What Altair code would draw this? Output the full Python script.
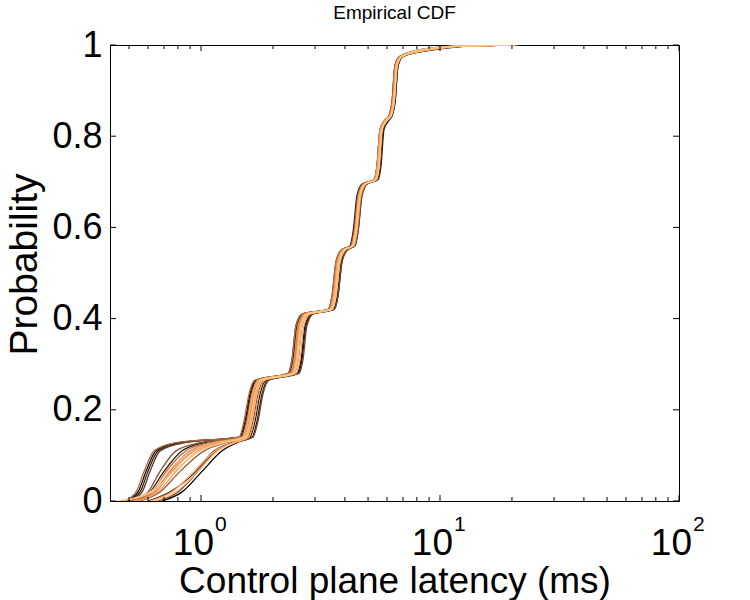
import altair as alt
import pandas as pd

# Cumulative probability levels shared by every run (quantile table of each run's latencies)
probability = [0.0, 0.02, 0.065, 0.11, 0.128,
               0.14, 0.175, 0.235, 0.265,
               0.28, 0.31, 0.385, 0.41,
               0.42, 0.45, 0.525, 0.55,
               0.56, 0.59, 0.67, 0.695,
               0.705, 0.735, 0.815, 0.835,
               0.845, 0.875, 0.955, 0.975,
               0.99, 0.998, 1.0]

# Latency (ms) at which each run reaches the probability levels above
run_01 = [0.687, 0.833, 1.010, 1.224, 1.415, 1.603, 1.682, 1.765, 1.871, 2.521, 2.620, 2.723, 2.885, 3.567, 3.707, 3.853, 4.043, 4.367, 4.494, 4.671, 4.902, 5.450, 5.611, 5.774, 6.058, 6.297, 6.481, 6.672, 7.000, 9.08, 13.35, 20.6]
run_02 = [0.486, 0.545, 0.589, 0.648, 0.801, 1.456, 1.528, 1.603, 1.699, 2.334, 2.426, 2.521, 2.671, 3.433, 3.567, 3.707, 3.890, 4.243, 4.367, 4.538, 4.761, 5.346, 5.503, 5.663, 5.944, 6.176, 6.357, 6.545, 6.867, 8.65, 12.72, 19.6]
run_03 = [0.525, 0.612, 0.700, 0.833, 1.039, 1.634, 1.715, 1.800, 1.907, 2.546, 2.646, 2.750, 2.913, 3.601, 3.743, 3.890, 4.082, 4.410, 4.538, 4.715, 4.950, 5.503, 5.663, 5.830, 6.117, 6.297, 6.481, 6.672, 7.000, 9.53, 14.01, 21.6]
run_04 = [0.495, 0.556, 0.600, 0.661, 0.833, 1.471, 1.543, 1.619, 1.715, 2.312, 2.402, 2.497, 2.646, 3.400, 3.533, 3.672, 3.853, 4.202, 4.325, 4.494, 4.715, 5.294, 5.450, 5.611, 5.886, 6.117, 6.297, 6.481, 6.801, 8.41, 12.37, 18.7]
run_05 = [0.600, 0.742, 0.953, 1.134, 1.348, 1.573, 1.650, 1.732, 1.835, 2.449, 2.546, 2.646, 2.803, 3.499, 3.637, 3.779, 3.966, 4.325, 4.451, 4.626, 4.855, 5.398, 5.557, 5.718, 6.000, 6.237, 6.419, 6.608, 6.934, 8.82, 12.97, 20.0]
run_06 = [0.505, 0.567, 0.612, 0.674, 0.857, 1.484, 1.557, 1.634, 1.732, 2.357, 2.449, 2.546, 2.698, 3.465, 3.601, 3.743, 3.928, 4.243, 4.367, 4.538, 4.761, 5.294, 5.450, 5.611, 5.886, 6.176, 6.357, 6.545, 6.867, 8.25, 12.13, 17.8]
run_07 = [0.661, 0.801, 0.971, 1.156, 1.374, 1.650, 1.732, 1.817, 1.925, 2.570, 2.671, 2.776, 2.942, 3.601, 3.743, 3.890, 4.082, 4.410, 4.538, 4.715, 4.950, 5.450, 5.611, 5.774, 6.058, 6.297, 6.481, 6.672, 7.000, 9.35, 13.75, 21.2]
run_08 = [0.514, 0.600, 0.674, 0.786, 0.990, 1.499, 1.573, 1.650, 1.748, 2.379, 2.473, 2.570, 2.723, 3.433, 3.567, 3.707, 3.890, 4.284, 4.410, 4.582, 4.808, 5.346, 5.503, 5.663, 5.944, 6.117, 6.297, 6.481, 6.801, 8.65, 12.72, 19.6]
run_09 = [0.556, 0.674, 0.817, 1.029, 1.272, 1.557, 1.634, 1.715, 1.817, 2.426, 2.521, 2.620, 2.776, 3.533, 3.672, 3.816, 4.004, 4.325, 4.451, 4.626, 4.855, 5.398, 5.557, 5.718, 6.000, 6.237, 6.419, 6.608, 6.934, 8.91, 13.10, 20.2]
run_10 = [0.476, 0.535, 0.578, 0.636, 0.786, 1.442, 1.513, 1.588, 1.682, 2.312, 2.402, 2.497, 2.646, 3.400, 3.533, 3.672, 3.853, 4.243, 4.367, 4.538, 4.761, 5.294, 5.450, 5.611, 5.886, 6.117, 6.297, 6.481, 6.801, 8.49, 12.49, 19.26]
run_11 = [0.505, 0.624, 0.714, 0.865, 1.091, 1.528, 1.603, 1.682, 1.782, 2.402, 2.497, 2.595, 2.750, 3.465, 3.601, 3.743, 3.928, 4.284, 4.410, 4.582, 4.808, 5.346, 5.503, 5.663, 5.944, 6.176, 6.357, 6.545, 6.867, 8.74, 12.85, 19.8]
run_12 = [0.535, 0.636, 0.742, 0.899, 1.134, 1.513, 1.588, 1.666, 1.765, 2.379, 2.473, 2.570, 2.723, 3.499, 3.637, 3.779, 3.966, 4.325, 4.451, 4.626, 4.855, 5.346, 5.503, 5.663, 5.944, 6.176, 6.357, 6.545, 6.867, 8.57, 12.60, 19.44]
run_13 = [0.545, 0.648, 0.756, 0.935, 1.178, 1.484, 1.557, 1.634, 1.732, 2.357, 2.449, 2.546, 2.698, 3.433, 3.567, 3.707, 3.890, 4.284, 4.410, 4.582, 4.808, 5.294, 5.450, 5.611, 5.886, 6.176, 6.357, 6.545, 6.867, 8.99, 13.22, 20.4]
run_14 = [0.525, 0.661, 0.786, 0.971, 1.224, 1.543, 1.619, 1.699, 1.800, 2.426, 2.521, 2.620, 2.776, 3.499, 3.637, 3.779, 3.966, 4.325, 4.451, 4.626, 4.855, 5.398, 5.557, 5.718, 6.000, 6.237, 6.419, 6.608, 6.934, 8.65, 12.72, 19.6]
run_15 = [0.612, 0.756, 0.935, 1.144, 1.361, 1.588, 1.666, 1.748, 1.852, 2.497, 2.595, 2.698, 2.858, 3.533, 3.672, 3.816, 4.004, 4.367, 4.494, 4.671, 4.902, 5.398, 5.557, 5.718, 6.000, 6.237, 6.419, 6.608, 6.934, 8.82, 12.97, 20.0]
run_16 = [0.450, 0.612, 0.728, 0.917, 1.156, 1.499, 1.573, 1.650, 1.748, 2.402, 2.497, 2.595, 2.750, 3.465, 3.601, 3.743, 3.928, 4.284, 4.410, 4.582, 4.808, 5.346, 5.503, 5.663, 5.944, 6.176, 6.357, 6.545, 6.867, 8.49, 12.49, 19.26]
run_17 = [0.642, 0.786, 0.971, 1.178, 1.388, 1.557, 1.634, 1.715, 1.817, 2.449, 2.546, 2.646, 2.803, 3.533, 3.672, 3.816, 4.004, 4.325, 4.451, 4.626, 4.855, 5.398, 5.557, 5.718, 6.000, 6.237, 6.419, 6.608, 6.934, 9.17, 13.48, 20.8]
run_18 = [0.458, 0.624, 0.771, 0.990, 1.248, 1.528, 1.603, 1.682, 1.782, 2.426, 2.521, 2.620, 2.776, 3.499, 3.637, 3.779, 3.966, 4.325, 4.451, 4.626, 4.855, 5.398, 5.557, 5.718, 6.000, 6.237, 6.419, 6.608, 6.934, 8.33, 12.24, 18.9]

runs = [run_01, run_02, run_03, run_04, run_05, run_06, run_07, run_08, run_09,
        run_10, run_11, run_12, run_13, run_14, run_15, run_16, run_17, run_18]
run_names = [f"run_{i + 1:02d}" for i in range(len(runs))]

# Copper colour map, dark to light, one colour per run
copper = ["#000000", "#130c07", "#25170f", "#382316", "#4b2f1e", "#5e3b25",
          "#71462d", "#835234", "#965e3c", "#a96943", "#bb754b", "#ce8152",
          "#e18d5a", "#f49861", "#ffa468", "#ffb070", "#ffbb77", "#ffc77f"]

# Axis ticks
x_major = [1, 10, 100]
x_exponent = ["0", "1", "2"]
x_minor = [0.5, 0.6, 0.7, 0.8, 0.9, 2, 3, 4, 5, 6, 7, 8, 9,
           20, 30, 40, 50, 60, 70, 80, 90]
y_ticks = [0, 0.2, 0.4, 0.6, 0.8, 1]

W, H = 569, 456
FONT = "Liberation Sans"

rows = []
for name, xs in zip(run_names, runs):
    for x, p in zip(xs, probability):
        rows.append({"run": name, "latency": x, "p": p})
df = pd.DataFrame(rows)

x_scale = alt.Scale(type="log", domain=[0.416, 100], nice=False)
y_scale = alt.Scale(domain=[0, 1], nice=False, zero=False)

x_axis = alt.Axis(labels=False, ticks=False, domain=False, grid=False,
                  title="Control plane latency (ms)", titleFont=FONT,
                  titleFontSize=37, titleFontWeight="normal", titleColor="black",
                  titleY=91, titleBaseline="alphabetic")
y_axis = alt.Axis(values=y_ticks, ticks=False, domain=False, grid=False,
                  labelExpr="datum.value == 0 ? '0' : datum.value == 1 ? '1' : format(datum.value, '.1f')",
                  labelFont=FONT, labelFontSize=36, labelColor="black",
                  labelPadding=8, labelOverlap=False,
                  title="Probability", titleFont=FONT, titleFontSize=39,
                  titleFontWeight="normal", titleColor="black",
                  titleAngle=270, titleX=-74, titleY=219,
                  titleBaseline="alphabetic", titleAlign="center")

X = alt.X("latency:Q", scale=x_scale, axis=x_axis)
Y = alt.Y("p:Q", scale=y_scale, axis=y_axis)

lines = alt.Chart(df).mark_line(interpolate="monotone", strokeWidth=1.3, clip=True).encode(
    x=X, y=Y,
    color=alt.Color("run:N", scale=alt.Scale(domain=run_names, range=copper), legend=None),
    order=alt.Order("p:Q"),
)

minor_df = pd.DataFrame({"latency": x_minor})
major_df = pd.DataFrame({"latency": x_major, "exp": x_exponent, "base": ["10"] * 3})
ytick_df = pd.DataFrame({"p": y_ticks})
heading_df = pd.DataFrame({"label": ["Empirical CDF"]})


def x_ticks(data, length):
    bottom = alt.Chart(data).mark_rule(color="black", strokeWidth=1).encode(
        x=X, y=alt.value(H), y2=alt.value(H - length))
    top = alt.Chart(data).mark_rule(color="black", strokeWidth=1).encode(
        x=X, y=alt.value(0), y2=alt.value(length))
    return [bottom, top]


y_left = alt.Chart(ytick_df).mark_rule(color="black", strokeWidth=1).encode(
    y=Y, x=alt.value(0), x2=alt.value(6))
y_right = alt.Chart(ytick_df).mark_rule(color="black", strokeWidth=1).encode(
    y=Y, x=alt.value(W), x2=alt.value(W - 6))

# Power-of-ten tick labels: base "10" plus a raised exponent
x_base = alt.Chart(major_df).mark_text(font=FONT, fontSize=37, align="right",
                                       baseline="alphabetic", dx=13, color="black").encode(
    x=X, y=alt.value(H + 54), text="base:N")
x_exp = alt.Chart(major_df).mark_text(font=FONT, fontSize=21, align="left",
                                      baseline="alphabetic", dx=14, color="black").encode(
    x=X, y=alt.value(H + 30), text="exp:N")

# Chart heading above the plot frame
heading = alt.Chart(heading_df).mark_text(font=FONT, fontSize=19, fontWeight="normal",
                                          align="center", baseline="alphabetic",
                                          color="black").encode(
    x=alt.value(W / 2), y=alt.value(-26), text="label:N")

chart = alt.layer(
    lines,
    *x_ticks(minor_df, 4),
    *x_ticks(major_df, 6),
    y_left, y_right,
    x_base, x_exp,
    heading,
).properties(
    width=W, height=H,
    padding={"left": 110, "top": 45, "right": 71, "bottom": 99},
    autosize=alt.AutoSizeParams(type="none"),
    background="white",
).configure_view(stroke="black", strokeWidth=1)

chart.save("out.html", embed_options={"renderer": "svg", "actions": False})
